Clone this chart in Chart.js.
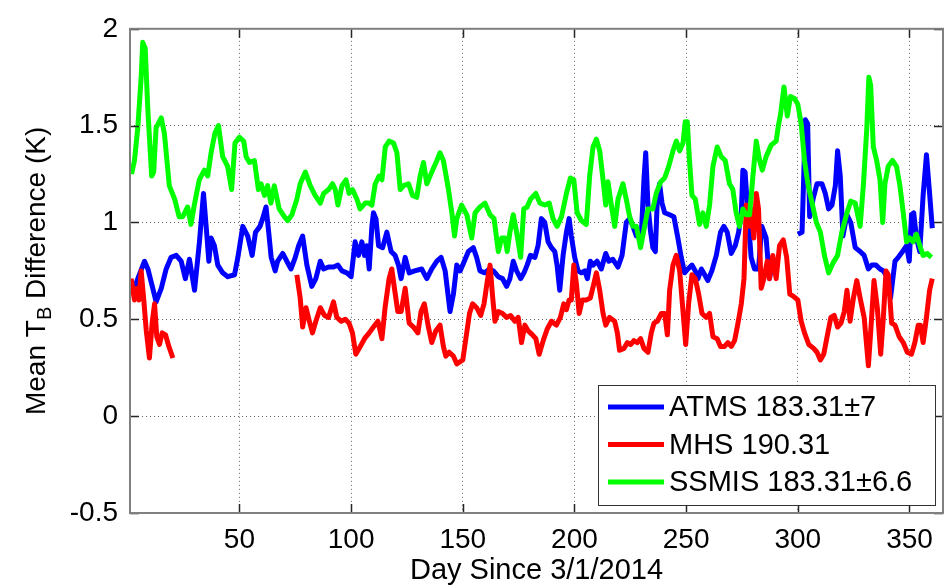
<!DOCTYPE html>
<html>
<head>
<meta charset="utf-8">
<script src="https://cdn.jsdelivr.net/npm/chart.js@4.4.0/dist/chart.umd.min.js"></script>
<style>
  html, body { margin: 0; padding: 0; background: #fff; }
  #wrap { width: 951px; height: 585px; position: relative; }
</style>
</head>
<body>
<div id="wrap"><canvas id="chart"></canvas></div>
<script>
// tick marks
const xTicks = [50, 100, 150, 200, 250, 300, 350];
const yTicks = [-0.5, 0, 0.5, 1, 1.5, 2];

const seriesNames = ['ATMS 183.31\u00b17', 'MHS 190.31', 'SSMIS 183.31\u00b16.6'];
const seriesColors = ['#0000ff', '#ff0000', '#00ff00'];

// ATMS (blue) - gap around day 290-300
const atmsDays = [1.5, 3, 4.5, 7.5, 9, 11.2, 12.7, 15, 17.2, 19.4, 21.7, 23.9, 25.8, 27.6, 29.9, 32.1, 33.9, 35.1, 36.3, 37.3,
  38.8, 40.3, 42.5, 44.8, 47.8, 49.3, 51.5, 53.7, 55.7, 57.2, 59.2, 60.4, 61.9, 63.1, 64.2, 66, 67.1, 69.4, 71.2, 73.1,
  75, 76.5, 78.3, 80.2, 82.4, 84.2, 86.2, 87.7, 89.9, 92.1, 94.1, 95.9, 98.1, 100, 101.8, 103.3, 104.8, 106, 107, 108.1,
  109.3, 110, 111.1, 112.3, 114.1, 116, 117.9, 119.7, 121.2, 122.4, 124.2, 126, 128.4, 131.6, 133.9, 136.1, 138.4, 140.3, 142.1, 144.3,
  145.8, 147.3, 148.8, 150.3, 152.5, 154.7, 156.2, 157.7, 159.9, 161.9, 163.7, 165.9, 167.8, 169.6, 171.1, 172.6, 174.1, 175.9, 177.4, 178.8,
  180.3, 182.3, 183.7, 185.2, 186.7, 188.2, 189.7, 191.2, 192.2, 193.4, 194.9, 196.4, 197.6, 198.6, 200.1, 201.6, 203.1, 204.6, 205.8, 207.1,
  208.3, 210.1, 212, 214, 215.4, 217.2, 219.5, 221.3, 223.2, 224.7, 226.2, 227.7, 228.7, 229.9, 231.1, 231.9, 232.9, 234.1, 235.1, 236.2,
  237.1, 238.1, 239.2, 240.4, 242.6, 244.5, 246.3, 247.8, 249.3, 250.8, 252.6, 254.1, 255.3, 256.8, 258.3, 259.7, 261.5, 263.5, 265.4, 266.9,
  268.4, 270.2, 272, 273.5, 274.7, 275.4, 276.4, 277.6, 279.1, 280.6, 282.4, 283.9, 285.8, 287.3, 288.8, 295,
  300, 301.9, 303.4, 304.4, 305.3, 306.8, 308.6, 310.8, 312.3, 313.8, 315.3, 316.8, 317.8, 319, 320.2, 322, 323.7, 325.7, 327.9, 329.7,
  331.6, 333.1, 335, 336.8, 338.3, 340.5, 341.5, 343.5, 345, 346.9, 348.7, 349.9, 350.9, 351.9, 353.1, 354.6, 356.1, 357.6, 359, 360.2];
const atmsValues = [0.70, 0.66, 0.71, 0.80, 0.76, 0.66, 0.59, 0.66, 0.76, 0.82, 0.83, 0.80, 0.71, 0.81, 0.65, 0.90, 1.15, 0.98, 0.80, 0.92,
  0.88, 0.78, 0.74, 0.72, 0.73, 0.82, 0.98, 0.93, 0.83, 0.95, 0.98, 1.02, 1.08, 0.95, 0.82, 0.75, 0.80, 0.84, 0.80, 0.76,
  0.82, 0.88, 0.93, 0.78, 0.67, 0.71, 0.80, 0.76, 0.77, 0.77, 0.78, 0.75, 0.74, 0.72, 0.90, 0.83, 0.90, 0.83, 0.88, 0.76,
  0.98, 1.05, 1.02, 0.88, 0.87, 0.95, 0.85, 0.83, 0.78, 0.71, 0.82, 0.74, 0.75, 0.76, 0.71, 0.76, 0.80, 0.82, 0.75, 0.54,
  0.63, 0.78, 0.75, 0.79, 0.85, 0.87, 0.82, 0.75, 0.74, 0.76, 0.75, 0.72, 0.71, 0.67, 0.71, 0.80, 0.75, 0.71, 0.74, 0.78,
  0.83, 0.82, 0.88, 1.02, 1.00, 0.90, 0.87, 0.85, 0.78, 0.65, 0.83, 0.95, 1.02, 0.93, 0.82, 0.75, 0.74, 0.75, 0.71, 0.80,
  0.78, 0.80, 0.76, 0.84, 0.80, 0.81, 0.77, 0.83, 1.00, 1.02, 0.98, 0.93, 0.95, 0.93, 1.22, 1.36, 1.09, 0.95, 0.87, 0.85,
  1.12, 1.20, 1.10, 1.05, 1.04, 1.03, 0.92, 0.82, 0.74, 0.76, 0.78, 0.75, 0.71, 0.76, 0.73, 0.70, 0.75, 0.83, 0.95, 0.98,
  0.95, 0.84, 0.88, 0.95, 1.05, 1.27, 1.26, 1.05, 0.82, 0.76, 0.76, 0.98, 0.92, 0.71, 0.80, null,
  0.94, 0.95, 1.53, 1.51, 1.03, 1.12, 1.20, 1.20, 1.15, 1.07, 1.09, 1.19, 1.37, 1.24, 0.93, 1.04, 1.00, 0.87, 0.85, 0.83,
  0.76, 0.78, 0.78, 0.76, 0.75, 0.71, 0.61, 0.80, 0.82, 0.85, 0.88, 0.80, 1.04, 1.05, 0.92, 0.85, 1.14, 1.35, 1.15, 0.97];

// MHS (red) - gap from about day 21 to day 75
const mhsDays = [1.5, 3, 4.1, 5, 6, 7.1, 8.3, 9.7, 10.9, 12, 13, 14.2, 15.4, 16.9, 18.4, 20.2, 48,
  75.7, 77.2, 78.3, 79.8, 81.3, 82.7, 84.2, 86.2, 88.1, 89.9, 92.1, 93.6, 95.6, 97.4, 99.1, 100.6, 102.1, 104.1, 106, 108.1,
  110, 112, 113.8, 115.2, 117, 118.2, 119.4, 120.9, 122.4, 124.2, 126, 127.9, 129.9, 131.3, 132.8, 134.6, 136.1, 137.9, 139.8, 141.3,
  142.4, 143.9, 145.8, 147.3, 150, 151.5, 153, 154.4, 156.2, 158, 159.5, 161, 162.2, 163.4, 164.4, 165.9, 167.8, 169.6, 171.4, 173.3,
  174.8, 176.3, 177.8, 179.3, 181.2, 182.7, 184.2, 186, 187.8, 189.7, 191.9, 193.7, 195.2, 196.4, 197.6, 198.6, 199.7, 200.9, 202.1, 203.5,
  205.3, 207.1, 208.6, 209.8, 211.3, 212.8, 214, 215.7, 218, 219.2, 220.2, 222.2, 223.7, 225.2, 226.6, 228.1, 229.6, 231.1, 232.9, 234.4,
  235.6, 237.1, 238.9, 240.4, 241.6, 242.6, 244.1, 245.6, 247.1, 248.6, 249.8, 251.1, 252.6, 254.1, 255.6, 257.1, 259, 260.5, 262, 263.9,
  265.4, 267.2, 268.7, 270.2, 271.7, 273.2, 274.7, 275.9, 276.9, 278, 279.1, 280.3, 281.4, 282.4, 283.6, 284.8, 286.3, 287.3, 288.8, 290.3,
  291.8, 293.5, 295, 296.4, 297.9, 300, 301.5, 303, 304.9, 307.1, 308.6, 310.1, 311.6, 313.1, 314.8, 316.3, 317.8, 319.3, 320.8, 322,
  323.4, 324.9, 326.4, 327.9, 329.7, 331.6, 332.6, 334.1, 335.6, 337.1, 338.3, 339.5, 340.5, 342, 343.5, 345.4, 347.2, 349, 350.9, 352.4,
  353.9, 354.9, 356.1, 357.6, 359, 360.2];
const mhsValues = [0.71, 0.60, 0.66, 0.60, 0.75, 0.61, 0.44, 0.30, 0.48, 0.58, 0.41, 0.37, 0.43, 0.42, 0.36, 0.30, null,
  0.73, 0.61, 0.46, 0.56, 0.49, 0.43, 0.49, 0.56, 0.52, 0.51, 0.59, 0.51, 0.49, 0.50, 0.48, 0.43, 0.32, 0.36, 0.40, 0.43,
  0.46, 0.49, 0.40, 0.56, 0.71, 0.76, 0.66, 0.54, 0.54, 0.66, 0.48, 0.46, 0.43, 0.54, 0.58, 0.46, 0.38, 0.44, 0.47, 0.36,
  0.31, 0.33, 0.31, 0.27, 0.29, 0.41, 0.53, 0.58, 0.56, 0.52, 0.58, 0.70, 0.78, 0.61, 0.49, 0.54, 0.53, 0.51, 0.52, 0.49,
  0.51, 0.38, 0.47, 0.44, 0.42, 0.40, 0.32, 0.39, 0.45, 0.49, 0.47, 0.51, 0.58, 0.55, 0.60, 0.60, 0.78, 0.68, 0.53, 0.60,
  0.60, 0.61, 0.68, 0.74, 0.65, 0.53, 0.47, 0.51, 0.49, 0.43, 0.34, 0.35, 0.38, 0.37, 0.39, 0.38, 0.40, 0.35, 0.33, 0.43,
  0.48, 0.49, 0.53, 0.53, 0.42, 0.65, 0.78, 0.83, 0.75, 0.54, 0.37, 0.58, 0.73, 0.71, 0.63, 0.53, 0.51, 0.53, 0.41, 0.40,
  0.36, 0.36, 0.38, 0.36, 0.39, 0.48, 0.58, 0.71, 1.09, 0.98, 1.07, 0.92, 1.15, 1.07, 0.66, 0.71, 0.80, 0.71, 0.83, 0.71,
  0.88, 0.91, 0.82, 0.63, 0.62, 0.60, 0.49, 0.43, 0.37, 0.35, 0.33, 0.29, 0.32, 0.41, 0.51, 0.52, 0.46, 0.48, 0.54, 0.65,
  0.49, 0.61, 0.70, 0.61, 0.51, 0.26, 0.43, 0.70, 0.56, 0.32, 0.51, 0.75, 0.73, 0.48, 0.47, 0.41, 0.38, 0.33, 0.32, 0.38,
  0.47, 0.47, 0.38, 0.51, 0.65, 0.71];

// SSMIS (green)
const ssmisDays = [1.7, 3, 4.5, 6, 6.7, 7.8, 9, 10.7, 11.6, 12.7, 15, 16.4, 18.6, 21, 23, 24.6, 26.8, 28.3, 29.8, 32,
  34.3, 35.8, 37.3, 39, 40.6, 42.5, 44.7, 46.5, 48, 50, 51.9, 53, 54.5, 56.7, 58.5, 59.7, 61.2, 62.6, 64.1, 65.6,
  67.8, 70.1, 71.6, 73.5, 75.7, 77.2, 79.5, 81.7, 83.9, 86.2, 87.7, 89.9, 91.7, 92.9, 94.1, 95.9, 97.7, 99.1, 100.6, 102.6,
  104, 106.3, 108, 109.3, 110.8, 112.5, 113.8, 115.3, 117, 119, 120.5, 122, 123.5, 125.7, 127.5, 129.4, 130.9, 132.4, 133.9, 136.1,
  138.4, 139.8, 141.3, 143.6, 145.1, 146.3, 147.3, 149.5, 151.8, 154, 155.5, 157.7, 159.9, 162.2, 164, 165.9, 167.4, 168.9, 169.9, 171.1,
  172.6, 174.1, 175.9, 177.3, 178.8, 180.3, 182.7, 184.5, 186.7, 188.7, 190.4, 192.2, 194.2, 196.4, 198.2, 199.7, 201.2, 203.1, 205.3, 206.8,
  208.3, 209.8, 211.3, 212.8, 214, 215, 216.5, 218, 219.5, 221.7, 223.2, 224.7, 226.2, 227.7, 229.6, 231.4, 232.9, 235.1, 236.6, 238.6,
  240.4, 242.2, 244.1, 245.6, 247.1, 248.6, 249.6, 250.5, 251.5, 252.6, 254.1, 256, 257.5, 259, 260.5, 262, 263.9, 265.7, 267.5, 269.4,
  270.9, 272.4, 273.9, 275.4, 276.9, 278.4, 279.9, 281.4, 282.9, 284.1, 285.8, 288.1, 290.3, 291.3, 292.3, 293.8, 295.3, 296.7, 298.5, 300,
  301.5, 303, 304.5, 306.4, 308.3, 310.1, 311.9, 313.8, 315.7, 317.8, 319.7, 322, 323.7, 325.7, 327.9, 329.4, 330.9, 331.8, 332.6, 333.8,
  335.3, 336.8, 338, 339, 340.5, 342.4, 344.2, 345.7, 347.2, 348.7, 350.1, 351.6, 353.1, 354.9, 356.1, 357.9, 359.8];
const ssmisValues = [1.25, 1.32, 1.49, 1.75, 1.93, 1.90, 1.58, 1.24, 1.26, 1.49, 1.54, 1.46, 1.19, 1.12, 1.03, 1.03, 1.08, 0.99, 1.09, 1.22,
  1.27, 1.24, 1.36, 1.46, 1.50, 1.34, 1.29, 1.17, 1.41, 1.44, 1.42, 1.34, 1.31, 1.32, 1.17, 1.20, 1.14, 1.19, 1.10, 1.19,
  1.07, 1.03, 1.01, 1.04, 1.12, 1.20, 1.26, 1.19, 1.14, 1.10, 1.15, 1.17, 1.20, 1.17, 1.09, 1.19, 1.22, 1.15, 1.17, 1.12,
  1.07, 1.10, 1.10, 1.09, 1.20, 1.24, 1.22, 1.39, 1.42, 1.41, 1.36, 1.17, 1.19, 1.20, 1.14, 1.13, 1.24, 1.31, 1.20, 1.26,
  1.32, 1.36, 1.32, 1.17, 1.05, 0.93, 1.02, 1.09, 1.04, 0.92, 1.05, 1.08, 1.10, 1.04, 1.02, 0.85, 0.92, 0.92, 0.85, 0.95,
  1.04, 0.95, 0.82, 1.07, 1.08, 1.12, 1.15, 1.10, 1.09, 1.10, 1.02, 0.98, 1.03, 1.15, 1.23, 1.22, 1.05, 1.01, 0.99, 1.24,
  1.39, 1.43, 1.37, 1.22, 1.09, 1.21, 1.09, 0.98, 1.12, 1.20, 1.12, 1.03, 0.98, 0.98, 0.87, 0.98, 1.07, 1.07, 1.15, 1.21,
  1.23, 1.29, 1.37, 1.42, 1.37, 1.41, 1.52, 1.52, 1.32, 1.14, 1.12, 0.99, 1.05, 0.98, 1.09, 1.29, 1.39, 1.34, 1.32, 1.20,
  1.17, 1.05, 0.98, 1.07, 1.04, 1.04, 1.24, 1.42, 1.32, 1.27, 1.34, 1.40, 1.42, 1.50, 1.56, 1.70, 1.55, 1.65, 1.64, 1.61,
  1.51, 1.32, 1.20, 1.10, 1.00, 0.95, 0.83, 0.74, 0.79, 0.83, 0.95, 1.05, 1.11, 1.10, 0.98, 1.20, 1.49, 1.75, 1.71, 1.39,
  1.32, 1.22, 1.00, 1.20, 1.29, 1.32, 1.29, 1.19, 1.05, 0.90, 0.92, 0.90, 0.94, 0.87, 0.83, 0.84, 0.82];

const toPoints = (days, vals) => days.map((d, i) => ({ x: d, y: vals[i] }));

const FONT = "'Liberation Sans', Arial, Helvetica, sans-serif";
Chart.defaults.font.family = FONT;
Chart.defaults.color = '#000';

const matlabAxes = {
    id: 'matlabAxes',
    afterDraw(chart) {
        const { ctx, chartArea: a, scales: { x, y } } = chart;
        ctx.save();

        // inward ticks
        ctx.strokeStyle = '#262626';
        ctx.lineWidth = 1.5;
        ctx.beginPath();
        xTicks.forEach(v => {
            const px = Math.round(x.getPixelForValue(v)) + 0.5;
            ctx.moveTo(px, a.bottom); ctx.lineTo(px, a.bottom - 9);
            ctx.moveTo(px, a.top); ctx.lineTo(px, a.top + 9);
        });
        yTicks.forEach(v => {
            const py = Math.round(y.getPixelForValue(v)) + 0.5;
            ctx.moveTo(a.left, py); ctx.lineTo(a.left + 9, py);
            ctx.moveTo(a.right, py); ctx.lineTo(a.right - 9, py);
        });
        ctx.stroke();

        // axes box
        ctx.strokeStyle = '#808080';
        ctx.lineWidth = 2;
        ctx.strokeRect(a.left, a.top, a.right - a.left, a.bottom - a.top);

        // x title
        ctx.fillStyle = '#000';
        ctx.font = '29px ' + FONT;
        ctx.textAlign = 'center';
        ctx.textBaseline = 'middle';
        ctx.fillText('Day Since 3/1/2014', (a.left + a.right) / 2, 571);

        // y title with subscript
        const main = '28px ' + FONT, sub = '20px ' + FONT;
        const p1 = 'Mean T', p2 = 'B', p3 = ' Difference (K)';
        ctx.font = main; const w1 = ctx.measureText(p1).width, w3 = ctx.measureText(p3).width;
        ctx.font = sub; const w2 = ctx.measureText(p2).width;
        ctx.translate(37, (a.top + a.bottom) / 2);
        ctx.rotate(-Math.PI / 2);
        ctx.textAlign = 'left';
        let sx = -(w1 + w2 + w3) / 2;
        ctx.font = main; ctx.fillText(p1, sx, 0); sx += w1;
        ctx.font = sub; ctx.fillText(p2, sx, 8); sx += w2;
        ctx.font = main; ctx.fillText(p3, sx, 0);
        ctx.setTransform(1, 0, 0, 1, 0, 0);

        // legend
        const lx = 598, ly = 385, lw = 337, lh = 120;
        ctx.fillStyle = '#fff';
        ctx.fillRect(lx, ly, lw, lh);
        ctx.strokeStyle = '#333';
        ctx.lineWidth = 1;
        ctx.strokeRect(lx + 0.5, ly + 0.5, lw, lh);
        ctx.font = '29px ' + FONT;
        ctx.textBaseline = 'middle';
        ctx.textAlign = 'left';
        seriesNames.forEach((name, i) => {
            const ry = ly + 22 + i * 37.5;
            ctx.strokeStyle = seriesColors[i];
            ctx.lineWidth = 5;
            ctx.beginPath(); ctx.moveTo(lx + 10, ry); ctx.lineTo(lx + 66, ry); ctx.stroke();
            ctx.fillStyle = '#000';
            ctx.fillText(name, lx + 71, ry + 1);
        });
        ctx.restore();
    }
};

const lineStyle = { borderWidth: 5, pointRadius: 0, tension: 0, spanGaps: false, borderJoinStyle: 'round', fill: false };

new Chart(document.getElementById('chart'), {
    type: 'line',
    data: {
        datasets: [
            { label: seriesNames[0], data: toPoints(atmsDays, atmsValues), borderColor: seriesColors[0], order: 2, ...lineStyle },
            { label: seriesNames[1], data: toPoints(mhsDays, mhsValues), borderColor: seriesColors[1], order: 1, ...lineStyle },
            { label: seriesNames[2], data: toPoints(ssmisDays, ssmisValues), borderColor: seriesColors[2], order: 0, ...lineStyle }
        ]
    },
    options: {
        responsive: true,
        maintainAspectRatio: false,
        animation: false,
        devicePixelRatio: 1,
        layout: { padding: { top: 20, right: 8, left: 0, bottom: 0 } },
        plugins: { legend: { display: false }, tooltip: { enabled: false } },
        scales: {
            x: {
                type: 'linear', min: 1, max: 365,
                afterBuildTicks: s => { s.ticks = xTicks.map(v => ({ value: v })); },
                afterFit: s => { s.height = 72; },
                grid: { color: 'rgba(0,0,0,0.6)', lineWidth: 1, drawTicks: false },
                border: { display: false, dash: [1, 3] },
                ticks: { font: { size: 28 }, padding: 10, color: '#000', maxRotation: 0 }
            },
            y: {
                type: 'linear', min: -0.5, max: 2,
                afterBuildTicks: s => { s.ticks = yTicks.map(v => ({ value: v })); },
                afterFit: s => { s.width = 130; },
                grid: { color: 'rgba(0,0,0,0.6)', lineWidth: 1, drawTicks: false },
                border: { display: false, dash: [1, 3] },
                ticks: { font: { size: 28 }, padding: 12, color: '#000', callback: v => String(v) }
            }
        }
    },
    plugins: [matlabAxes]
});
</script>
</body>
</html>
